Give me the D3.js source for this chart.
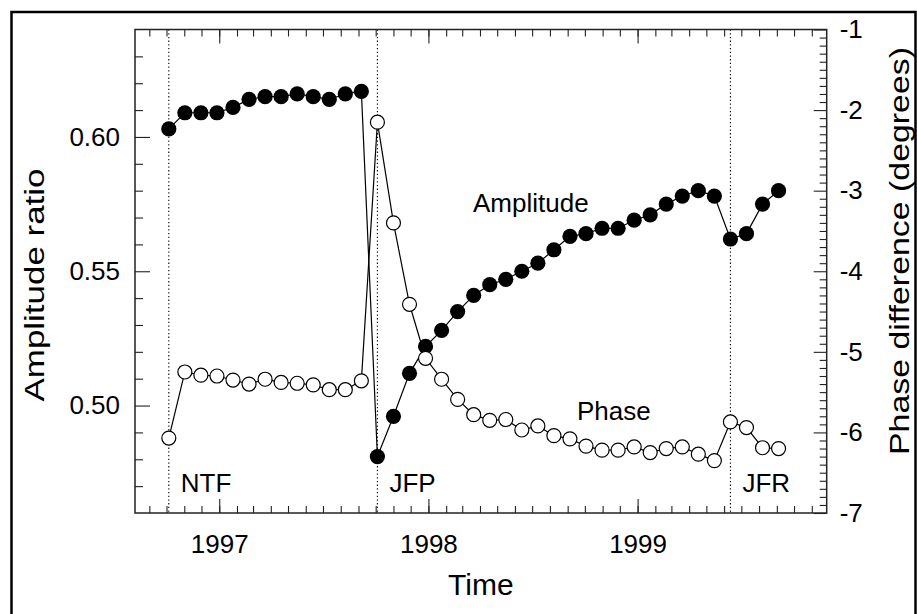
<!DOCTYPE html>
<html>
<head>
<meta charset="utf-8">
<script src="https://cdn.jsdelivr.net/npm/d3@7"></script>
<style>
  html, body { margin: 0; padding: 0; background: #fff; }
  svg { display: block; }
  text { font-family: "Liberation Sans", Arial, Helvetica, sans-serif; fill: #000; }
</style>
</head>
<body>
<svg id="chart" width="917" height="614"></svg>
<script>
// ---- data (4-weekly samples) ----
const dates = [
  "1996-10-05","1996-11-02","1996-11-30","1996-12-28","1997-01-25","1997-02-22","1997-03-22",
  "1997-04-19","1997-05-17","1997-06-14","1997-07-12","1997-08-09","1997-09-06","1997-10-04",
  "1997-11-01","1997-11-29","1997-12-27","1998-01-24","1998-02-21","1998-03-21","1998-04-18",
  "1998-05-16","1998-06-13","1998-07-11","1998-08-08","1998-09-05","1998-10-03","1998-10-31",
  "1998-11-28","1998-12-26","1999-01-23","1999-02-20","1999-03-20","1999-04-17","1999-05-15",
  "1999-06-12","1999-07-10","1999-08-07","1999-09-04"
];
const amplitude = [
  0.603, 0.609, 0.609, 0.609, 0.611, 0.614, 0.615, 0.615, 0.616, 0.615, 0.614, 0.616, 0.617,
  0.481, 0.496, 0.512, 0.522, 0.528, 0.535, 0.541, 0.545, 0.547, 0.550, 0.553, 0.558, 0.563,
  0.564, 0.566, 0.566, 0.569, 0.571, 0.575, 0.578, 0.580, 0.578, 0.562, 0.564, 0.575, 0.580
];
const phase = [
  -6.07, -5.25, -5.29, -5.30, -5.35, -5.40, -5.34, -5.38, -5.39, -5.41, -5.47, -5.47, -5.36,
  -2.15, -3.40, -4.41, -5.08, -5.34, -5.59, -5.78, -5.85, -5.84, -5.97, -5.92, -6.04, -6.08,
  -6.17, -6.22, -6.22, -6.18, -6.25, -6.20, -6.18, -6.27, -6.35, -5.87, -5.94, -6.19, -6.20
];
const eventDates = ["1996-10-05", "1997-10-04", "1999-06-12"];
const eventLabels = ["NTF", "JFP", "JFR"];
const yearTicks = ["1997-01-01", "1998-01-01", "1999-01-01"];
const ampMajorTicks = [0.50, 0.55, 0.60];
const ampMinorTicks = [0.47,0.48,0.49,0.51,0.52,0.53,0.54,0.56,0.57,0.58,0.59,0.61,0.62,0.63];
const phaseMajorTicks = [-7, -6, -5, -4, -3, -2, -1];
const xDomain = ["1996-08-07", "1999-11-27"];
const ampDomain = [0.46, 0.64];
const phaseDomain = [-7, -1];

// ---- layout ----
const L = 135, R = 826.7, T = 29.5, B = 513;
const parse = d3.utcParse("%Y-%m-%d");
const svg = d3.select("#chart");

const x = d3.scaleUtc().domain(xDomain.map(parse)).range([L, R]);
const yA = d3.scaleLinear().domain(ampDomain).range([B, T]);
const yP = d3.scaleLinear().domain(phaseDomain).range([B, T]);

const rows = dates.map((d, i) => ({ date: parse(d), amp: amplitude[i], ph: phase[i] }));

// outer border (cropped figure frame)
svg.append("rect").attr("x", 11.5).attr("y", 12).attr("width", 904).attr("height", 640)
  .attr("fill", "none").attr("stroke", "#000").attr("stroke-width", 2.5);

// event lines
svg.append("g").selectAll("line").data(eventDates).join("line")
  .attr("x1", d => x(parse(d))).attr("x2", d => x(parse(d)))
  .attr("y1", T).attr("y2", B)
  .attr("stroke", "#000").attr("stroke-width", 1.1).attr("stroke-dasharray", "1.3,2.4");

// axes styling helper
function styleAxis(g, w) {
  g.select(".domain").remove();
  g.selectAll(".tick line").attr("stroke", "#222").attr("stroke-width", w || 1.1);
}
const months = d3.utcMonth.range(x.domain()[0], x.domain()[1]);
const years = yearTicks.map(parse);

// bottom (ticks inward)
svg.append("g").attr("transform", `translate(0,${B})`)
  .call(d3.axisTop(x).tickValues(months).tickSize(7).tickFormat("")).call(styleAxis);
svg.append("g").attr("transform", `translate(0,${B})`)
  .call(d3.axisTop(x).tickValues(years).tickSize(14).tickFormat("")).call(styleAxis);
// top
svg.append("g").attr("transform", `translate(0,${T})`)
  .call(d3.axisBottom(x).tickValues(months).tickSize(7).tickFormat("")).call(styleAxis);
svg.append("g").attr("transform", `translate(0,${T})`)
  .call(d3.axisBottom(x).tickValues(years).tickSize(14).tickFormat("")).call(styleAxis);
// year labels
const xl = svg.append("g").attr("transform", `translate(0,${B})`)
  .call(d3.axisBottom(x).tickValues(years).tickSize(0).tickPadding(22).tickFormat(d3.utcFormat("%Y")));
xl.select(".domain").remove();
xl.selectAll("text").attr("font-size", 26).attr("font-family", "Liberation Sans, Arial, sans-serif").attr("fill", "#000");

// left axis
svg.append("g").attr("transform", `translate(${L},0)`)
  .call(d3.axisRight(yA).tickValues(ampMinorTicks).tickSize(8).tickFormat("")).call(styleAxis);
svg.append("g").attr("transform", `translate(${L},0)`)
  .call(d3.axisRight(yA).tickValues(ampMajorTicks).tickSize(15).tickFormat("")).call(styleAxis);
const yl = svg.append("g").attr("transform", `translate(${L},0)`)
  .call(d3.axisLeft(yA).tickValues(ampMajorTicks).tickSize(0).tickPadding(15).tickFormat(d3.format(".2f")));
yl.select(".domain").remove();
yl.selectAll("text").attr("font-size", 26).attr("font-family", "Liberation Sans, Arial, sans-serif").attr("fill", "#000");

// right axis
const phaseMinor = d3.range(-69, -10).map(d => d / 10).filter(d => Math.abs(d - Math.round(d)) > 1e-6);
svg.append("g").attr("transform", `translate(${R},0)`)
  .call(d3.axisLeft(yP).tickValues(phaseMinor).tickSize(7).tickFormat("")).call(styleAxis);
svg.append("g").attr("transform", `translate(${R},0)`)
  .call(d3.axisLeft(yP).tickValues(phaseMajorTicks).tickSize(13).tickFormat("")).call(styleAxis);
const yr = svg.append("g").attr("transform", `translate(${R},0)`)
  .call(d3.axisRight(yP).tickValues(phaseMajorTicks).tickSize(0).tickPadding(13).tickFormat(d => String(d)));
yr.select(".domain").remove();
yr.selectAll("text").attr("font-size", 26).attr("font-family", "Liberation Sans, Arial, sans-serif").attr("fill", "#000");

// plot frame
svg.append("rect").attr("x", L).attr("y", T).attr("width", R - L).attr("height", B - T)
  .attr("fill", "none").attr("stroke", "#222").attr("stroke-width", 1.5);

// lines
const ampLine = d3.line().x(d => x(d.date)).y(d => yA(d.amp));
const phLine = d3.line().x(d => x(d.date)).y(d => yP(d.ph));
svg.append("path").datum(rows).attr("d", ampLine).attr("fill", "none").attr("stroke", "#000").attr("stroke-width", 1.2);
svg.append("path").datum(rows).attr("d", phLine).attr("fill", "none").attr("stroke", "#000").attr("stroke-width", 1.2);

// markers
svg.append("g").selectAll("circle").data(rows).join("circle")
  .attr("cx", d => x(d.date)).attr("cy", d => yA(d.amp)).attr("r", 7.6).attr("fill", "#000");
svg.append("g").selectAll("circle").data(rows).join("circle")
  .attr("cx", d => x(d.date)).attr("cy", d => yP(d.ph)).attr("r", 7)
  .attr("fill", "#fff").attr("stroke", "#000").attr("stroke-width", 1.2);

// event labels
svg.append("g").selectAll("text").data(eventDates).join("text")
  .attr("x", d => x(parse(d)) + 12).attr("y", 492)
  .attr("font-size", 26).text((d, i) => eventLabels[i]);

// series annotations
svg.append("text").attr("x", 473).attr("y", 212).attr("font-size", 26).text("Amplitude");
svg.append("text").attr("x", 577).attr("y", 420).attr("font-size", 26).text("Phase");

// axis titles
svg.append("text").attr("transform", "translate(44,285) rotate(-90)")
  .attr("text-anchor", "middle").attr("font-size", 27)
  .attr("textLength", 233).attr("lengthAdjust", "spacingAndGlyphs").text("Amplitude ratio");
svg.append("text").attr("transform", "translate(909,251) rotate(-90)")
  .attr("text-anchor", "middle").attr("font-size", 28)
  .attr("textLength", 408).attr("lengthAdjust", "spacingAndGlyphs").text("Phase difference (degrees)");
svg.append("text").attr("x", (L + R) / 2).attr("y", 595)
  .attr("text-anchor", "middle").attr("font-size", 30).text("Time");
</script>
</body>
</html>
